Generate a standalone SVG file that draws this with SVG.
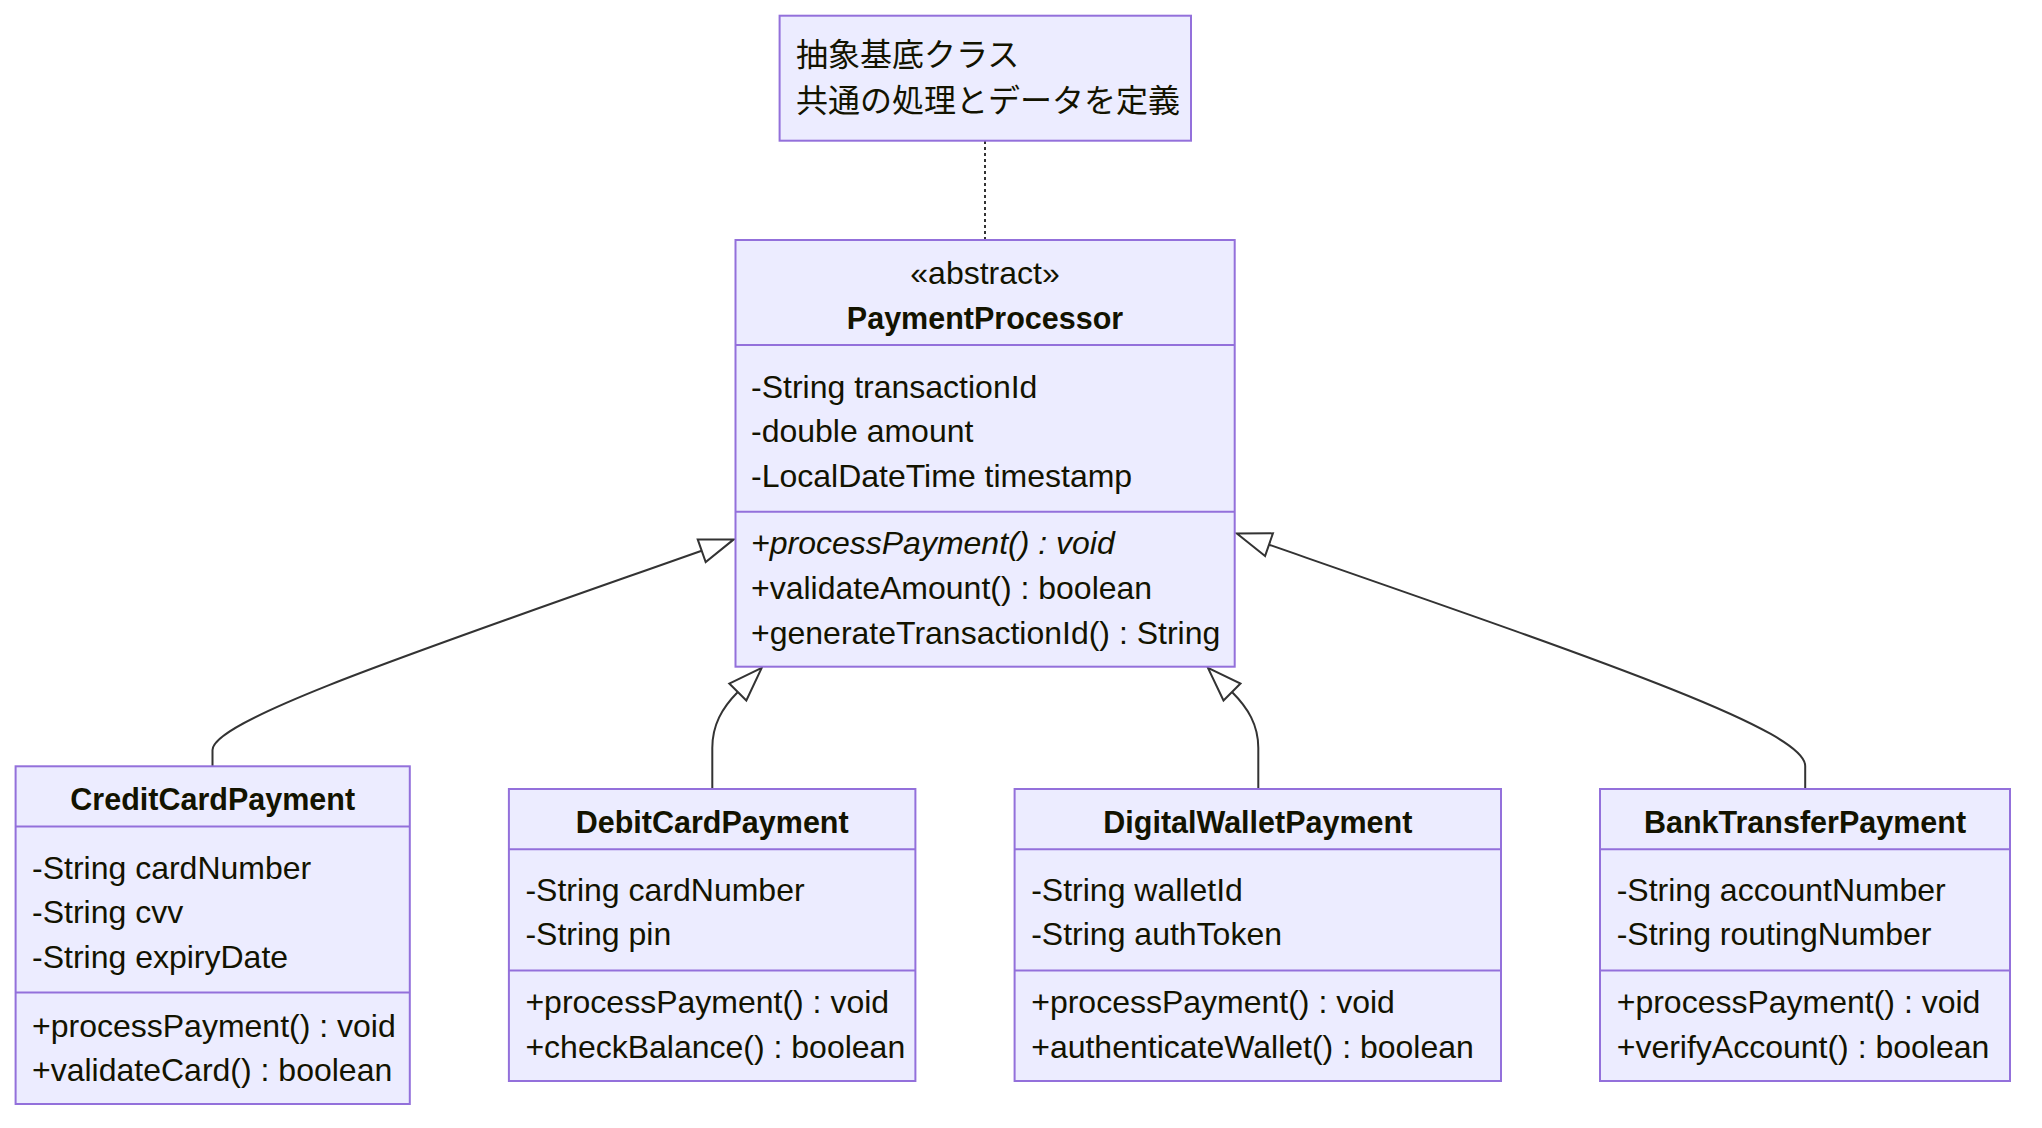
<svg xmlns="http://www.w3.org/2000/svg" width="2042" height="1128" viewBox="0 0 2042 1128">
<defs>
<style>
.box{fill:#ECECFF;stroke:#9370DB;stroke-width:2}
.div{stroke:#9370DB;stroke-width:2}
text{font-family:"Liberation Sans","Noto Sans CJK JP",sans-serif;font-size:32px;fill:#131300}
.title{font-weight:bold;text-anchor:middle;font-size:30.5px}
.mid{text-anchor:middle}
.it{font-style:italic}
.edge{fill:none;stroke:#333333;stroke-width:2}
.note-link{fill:none;stroke:#333333;stroke-width:2;stroke-dasharray:3,3}
</style>
<marker id="inh" markerUnits="userSpaceOnUse" orient="auto" refX="0" refY="0" markerWidth="40" markerHeight="30" viewBox="-2 -14 40 28" overflow="visible">
<path d="M0,-12 L34,0 L0,12 Z" fill="#ffffff" stroke="#333333" stroke-width="2" stroke-linejoin="miter"/>
</marker>
</defs>
<rect width="2042" height="1128" fill="#ffffff"/>

<g id="connectors">
<path class="note-link" d="M985,141 L985,240"/>
<path class="edge" marker-end="url(#inh)" d="M212.5,766.3 L212.5,750 C212.5,720 420,650 701.7,550.7"/>
<path class="edge" marker-end="url(#inh)" d="M712.3,789 L712.3,748 C712.3,725 722,708 737.8,692"/>
<path class="edge" marker-end="url(#inh)" d="M1258.3,789 L1258.3,748 C1258.3,725 1248,708 1232,692"/>
<path class="edge" marker-end="url(#inh)" d="M1805.2,788.7 L1805.2,766 C1805.2,730 1600,660 1269,544.7"/>
</g>

<g id="note">
<rect class="box" x="779.6" y="15.7" width="411.4" height="125"/>
<text x="796" y="66">抽象基底クラス</text>
<text x="796" y="112">共通の処理とデータを定義</text>
</g>

<g id="PaymentProcessor">
<rect class="box" x="735.5" y="240" width="499.2" height="426.7"/>
<line class="div" x1="735.5" y1="345" x2="1234.7" y2="345"/>
<line class="div" x1="735.5" y1="511.7" x2="1234.7" y2="511.7"/>
<text class="mid" x="985" y="284">«abstract»</text>
<text class="title" x="985" y="329">PaymentProcessor</text>
<text x="751" y="398">-String transactionId</text>
<text x="751" y="442">-double amount</text>
<text x="751" y="487">-LocalDateTime timestamp</text>
<text class="it" x="751" y="554">+processPayment() : void</text>
<text x="751" y="599">+validateAmount() : boolean</text>
<text x="751" y="644">+generateTransactionId() : String</text>
</g>

<g id="CreditCardPayment">
<rect class="box" x="15.6" y="766.3" width="394.2" height="337.7"/>
<line class="div" x1="15.6" y1="826.4" x2="409.8" y2="826.4"/>
<line class="div" x1="15.6" y1="992.6" x2="409.8" y2="992.6"/>
<text class="title" x="212.7" y="810.4">CreditCardPayment</text>
<text x="32" y="878.5">-String cardNumber</text>
<text x="32" y="922.5">-String cvv</text>
<text x="32" y="967.5">-String expiryDate</text>
<text x="32" y="1036.7">+processPayment() : void</text>
<text x="32" y="1080.7">+validateCard() : boolean</text>
</g>

<g id="DebitCardPayment">
<rect class="box" x="508.9" y="789" width="406.5" height="292"/>
<line class="div" x1="508.9" y1="849.2" x2="915.4" y2="849.2"/>
<line class="div" x1="508.9" y1="970.6" x2="915.4" y2="970.6"/>
<text class="title" x="712.2" y="833.2">DebitCardPayment</text>
<text x="525.4" y="900.5">-String cardNumber</text>
<text x="525.4" y="945">-String pin</text>
<text x="525.4" y="1013">+processPayment() : void</text>
<text x="525.4" y="1057.5">+checkBalance() : boolean</text>
</g>

<g id="DigitalWalletPayment">
<rect class="box" x="1014.6" y="789" width="486.4" height="292"/>
<line class="div" x1="1014.6" y1="849.2" x2="1501" y2="849.2"/>
<line class="div" x1="1014.6" y1="970.6" x2="1501" y2="970.6"/>
<text class="title" x="1257.8" y="833.2">DigitalWalletPayment</text>
<text x="1031.2" y="900.5">-String walletId</text>
<text x="1031.2" y="945">-String authToken</text>
<text x="1031.2" y="1013">+processPayment() : void</text>
<text x="1031.2" y="1057.5">+authenticateWallet() : boolean</text>
</g>

<g id="BankTransferPayment">
<rect class="box" x="1600" y="789" width="410" height="292"/>
<line class="div" x1="1600" y1="849.2" x2="2010" y2="849.2"/>
<line class="div" x1="1600" y1="970.6" x2="2010" y2="970.6"/>
<text class="title" x="1805" y="833.2">BankTransferPayment</text>
<text x="1616.7" y="900.5">-String accountNumber</text>
<text x="1616.7" y="945">-String routingNumber</text>
<text x="1616.7" y="1013">+processPayment() : void</text>
<text x="1616.7" y="1057.5">+verifyAccount() : boolean</text>
</g>
</svg>
